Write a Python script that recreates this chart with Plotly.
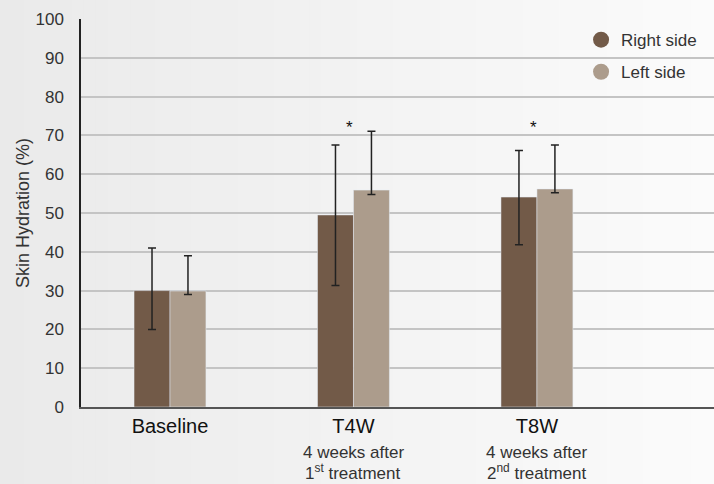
import plotly.graph_objects as go

categories = ["Baseline", "T4W", "T8W"]
sublabel_1 = ["", "4 weeks after", "4 weeks after"]
sublabel_2 = ["", "1<sup>st</sup> treatment", "2<sup>nd</sup> treatment"]
right_side = [30.0, 49.5, 54.1]
right_err_plus = [11.0, 18.0, 12.0]
right_err_minus = [10.0, 18.2, 12.3]
left_side = [29.9, 55.9, 56.2]
left_err_plus = [9.1, 15.2, 11.3]
left_err_minus = [0.9, 1.1, 1.0]
significant = [False, True, True]
star_y = [None, 72, 72]
y_ticks = list(range(0, 101, 10))

xs = list(range(len(categories)))
DARK = "#725a48"
LIGHT = "#ac9c8c"
FONT = "Liberation Sans, Arial, sans-serif"

fig = go.Figure()
fig.add_trace(go.Bar(
    x=xs, y=right_side, name="Right side", marker_color=DARK, showlegend=False,
    error_y=dict(type="data", symmetric=False, array=right_err_plus,
                 arrayminus=right_err_minus, color="#222222", thickness=1.5, width=4),
))
fig.add_trace(go.Bar(
    x=xs, y=left_side, name="Left side", marker_color=LIGHT, showlegend=False,
    error_y=dict(type="data", symmetric=False, array=left_err_plus,
                 arrayminus=left_err_minus, color="#222222", thickness=1.5, width=4),
))
# legend entries with circle markers
fig.add_trace(go.Scatter(x=[None], y=[None], mode="markers", name="Right side",
                         legendgroup="r", marker=dict(color=DARK, size=16)))
fig.add_trace(go.Scatter(x=[None], y=[None], mode="markers", name="Left side",
                         legendgroup="l", marker=dict(color=LIGHT, size=16)))

# background gradient strips
W, H = 633.0, 388.0
ml, mr, mt, mb = 81, 0, 19, 77
n = 60
x_start = -ml / W
x_end = 1.0
c0, c1 = (234, 234, 234), (251, 251, 251)
shapes = []
for i in range(n):
    t = i / (n - 1)
    c = tuple(int(round(c0[k] + (c1[k] - c0[k]) * t)) for k in range(3))
    xa = x_start + (x_end - x_start) * i / n
    xb = x_start + (x_end - x_start) * (i + 1) / n + 0.002
    shapes.append(dict(type="rect", xref="paper", yref="paper", x0=xa, x1=xb,
                       y0=-mb / H, y1=1 + mt / H, fillcolor="rgb(%d,%d,%d)" % c,
                       line=dict(width=0), layer="below"))

annotations = []
for i, cat in enumerate(categories):
    if sublabel_1[i]:
        annotations.append(dict(x=xs[i], y=0, xref="x", yref="y", text=sublabel_1[i],
                                showarrow=False, yanchor="middle", yshift=-45,
                                font=dict(family=FONT, size=17, color="#333333")))
        annotations.append(dict(x=xs[i], y=0, xref="x", yref="y", text=sublabel_2[i],
                                showarrow=False, yanchor="middle", yshift=-65,
                                font=dict(family=FONT, size=17, color="#333333")))
    if significant[i]:
        annotations.append(dict(x=xs[i] - 0.02, y=star_y[i], xref="x", yref="y", text="*",
                                showarrow=False, yanchor="middle",
                                font=dict(family=FONT, size=17, color="#111111")))

fig.update_layout(
    width=714, height=484,
    margin=dict(l=ml, r=mr, t=mt, b=mb),
    paper_bgcolor="#ececec",
    plot_bgcolor="rgba(0,0,0,0)",
    barmode="group", bargap=0.608, bargroupgap=0,
    shapes=shapes, annotations=annotations,
    font=dict(family=FONT, color="#333333", size=17),
    legend=dict(x=0.79, y=0.992, xanchor="left", yanchor="top",
                bgcolor="rgba(0,0,0,0)", font=dict(family=FONT, size=17, color="#333333"),
                tracegroupgap=7, itemsizing="trace"),
    xaxis=dict(range=[-0.485, 2.965], tickmode="array", tickvals=xs, ticktext=categories,
               tickfont=dict(family=FONT, size=20, color="#111111"),
               showgrid=False, zeroline=False, showline=True, linecolor="#555555",
               linewidth=2, ticks=""),
    yaxis=dict(range=[0, 100], tickmode="array", tickvals=y_ticks,
               tickfont=dict(family=FONT, size=17, color="#333333"),
               showgrid=True, gridcolor="#c4c4c4", gridwidth=1.5, zeroline=False,
               showline=True, linecolor="#222222", linewidth=1.5, ticks="",
               ticklabelstandoff=12,
               title=dict(text="Skin Hydration (%)", standoff=1,
                          font=dict(family=FONT, size=18, color="#333333"))),
)

fig.write_html("out.html", config={"displayModeBar": False})

# remove the default page margin so the figure fills the window
with open("out.html", "r", encoding="utf-8") as f:
    html = f.read()
html = html.replace("<head>", "<head><style>html,body{margin:0;padding:0;overflow:hidden;}</style>", 1)
with open("out.html", "w", encoding="utf-8") as f:
    f.write(html)
